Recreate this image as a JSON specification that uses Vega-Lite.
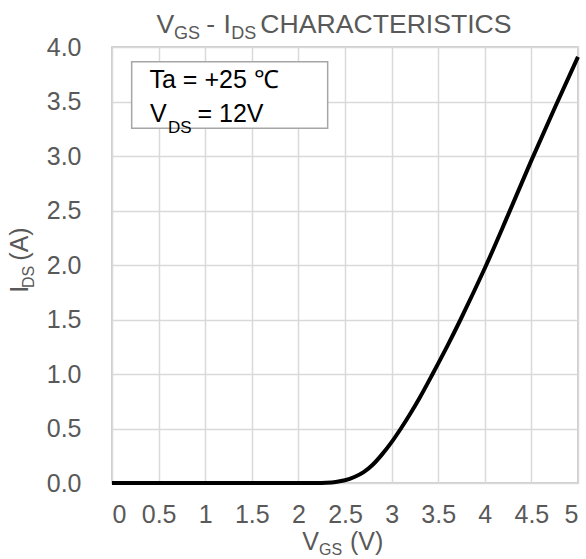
{
  "$schema": "https://vega.github.io/schema/vega-lite/v6.json",
  "width": 466,
  "height": 436,
  "autosize": {"type": "none"},
  "padding": {"left": 112, "top": 47, "right": 8, "bottom": 76},
  "background": "white",
  "config": {
    "font": "Liberation Sans",
    "view": {"stroke": "#bfbfbf", "strokeWidth": 1.5},
    "axis": {
      "gridColor": "#d9d9d9",
      "gridWidth": 1.5,
      "gridOpacity": 1,
      "domain": false,
      "ticks": false,
      "tickSize": 0,
      "labelFont": "Liberation Sans",
      "labelFontSize": 25,
      "labelColor": "#595959",
      "title": null
    }
  },
  "datasets": {
    "curve": [
      {"vgs": 0, "ids": 0}, {"vgs": 0.5, "ids": 0}, {"vgs": 1, "ids": 0}, {"vgs": 1.5, "ids": 0},
      {"vgs": 2, "ids": 0}, {"vgs": 2.2, "ids": 0}, {"vgs": 2.3, "ids": 0.003}, {"vgs": 2.4, "ids": 0.01},
      {"vgs": 2.5, "ids": 0.025}, {"vgs": 2.6, "ids": 0.055}, {"vgs": 2.7, "ids": 0.1}, {"vgs": 2.8, "ids": 0.17},
      {"vgs": 2.9, "ids": 0.265}, {"vgs": 3.0, "ids": 0.375}, {"vgs": 3.1, "ids": 0.5}, {"vgs": 3.2, "ids": 0.635},
      {"vgs": 3.3, "ids": 0.78}, {"vgs": 3.44, "ids": 1.0}, {"vgs": 3.6, "ids": 1.26}, {"vgs": 3.74, "ids": 1.5},
      {"vgs": 3.88, "ids": 1.75}, {"vgs": 4.0, "ids": 1.97}, {"vgs": 4.25, "ids": 2.46}, {"vgs": 4.5, "ids": 2.96},
      {"vgs": 4.75, "ids": 3.44}, {"vgs": 5.0, "ids": 3.91}
    ],
    "titleMain": [
      {"label": "V", "vgs": 0.4775, "ids": 4.1257},
      {"label": "-", "vgs": 1.0107, "ids": 4.1257},
      {"label": "I", "vgs": 1.197, "ids": 4.1257},
      {"label": "CHARACTERISTICS", "vgs": 1.592, "ids": 4.1257}
    ],
    "titleSub": [
      {"label": "GS", "vgs": 0.665, "ids": 4.0706},
      {"label": "DS", "vgs": 1.28, "ids": 4.0706}
    ],
    "xTitleMain": [
      {"label": "V", "vgs": 2.041, "ids": -0.6147},
      {"label": "(V)", "vgs": 2.554, "ids": -0.6147}
    ],
    "xTitleSub": [
      {"label": "GS", "vgs": 2.221, "ids": -0.665}
    ],
    "yTitleMain": [
      {"label": "I", "vgs": -0.898, "ids": 1.745},
      {"label": "(A)", "vgs": -0.898, "ids": 2.04}
    ],
    "yTitleSub": [
      {"label": "DS", "vgs": -0.837, "ids": 1.788}
    ],
    "legendMain": [
      {"label": "Ta = +25 ℃", "vgs": 0.4023, "ids": 3.621},
      {"label": "V", "vgs": 0.4077, "ids": 3.3147},
      {"label": "= 12V", "vgs": 0.917, "ids": 3.3147}
    ],
    "legendSub": [
      {"label": "DS", "vgs": 0.601, "ids": 3.211}
    ]
  },
  "layer": [
    {
      "data": {"name": "curve"},
      "mark": {"type": "line", "color": "black", "strokeWidth": 4, "interpolate": "monotone"},
      "encoding": {
        "x": {
          "field": "vgs", "type": "quantitative",
          "scale": {"domain": [0, 5], "nice": false, "zero": false},
          "axis": {"values": [0, 0.5, 1, 1.5, 2, 2.5, 3, 3.5, 4, 4.5, 5], "labelExpr": "toString(datum.value)", "labelPadding": 19, "title": null}
        },
        "y": {
          "field": "ids", "type": "quantitative",
          "scale": {"domain": [0, 4], "nice": false, "zero": false},
          "axis": {"values": [0, 0.5, 1, 1.5, 2, 2.5, 3, 3.5, 4], "format": ".1f", "labelPadding": 31, "title": null}
        }
      }
    },
    {
      "data": {"values": [{}]},
      "mark": {"type": "rect", "fill": "white", "stroke": "#a6a6a6", "strokeWidth": 1.5},
      "encoding": {
        "x": {"datum": 0.211, "type": "quantitative"},
        "x2": {"datum": 2.314},
        "y": {"datum": 3.865, "type": "quantitative"},
        "y2": {"datum": 3.254}
      }
    },
    {
      "data": {"name": "titleMain"},
      "mark": {"type": "text", "align": "left", "baseline": "alphabetic", "fontSize": 26.6, "color": "#595959"},
      "encoding": {"x": {"field": "vgs", "type": "quantitative"}, "y": {"field": "ids", "type": "quantitative"}, "text": {"field": "label"}}
    },
    {
      "data": {"name": "titleSub"},
      "mark": {"type": "text", "align": "left", "baseline": "alphabetic", "fontSize": 18, "color": "#595959"},
      "encoding": {"x": {"field": "vgs", "type": "quantitative"}, "y": {"field": "ids", "type": "quantitative"}, "text": {"field": "label"}}
    },
    {
      "data": {"name": "xTitleMain"},
      "mark": {"type": "text", "align": "left", "baseline": "alphabetic", "fontSize": 25, "color": "#595959"},
      "encoding": {"x": {"field": "vgs", "type": "quantitative"}, "y": {"field": "ids", "type": "quantitative"}, "text": {"field": "label"}}
    },
    {
      "data": {"name": "xTitleSub"},
      "mark": {"type": "text", "align": "left", "baseline": "alphabetic", "fontSize": 16, "color": "#595959"},
      "encoding": {"x": {"field": "vgs", "type": "quantitative"}, "y": {"field": "ids", "type": "quantitative"}, "text": {"field": "label"}}
    },
    {
      "data": {"name": "yTitleMain"},
      "mark": {"type": "text", "align": "left", "baseline": "alphabetic", "fontSize": 25, "angle": 270, "color": "#595959"},
      "encoding": {"x": {"field": "vgs", "type": "quantitative"}, "y": {"field": "ids", "type": "quantitative"}, "text": {"field": "label"}}
    },
    {
      "data": {"name": "yTitleSub"},
      "mark": {"type": "text", "align": "left", "baseline": "alphabetic", "fontSize": 16, "angle": 270, "color": "#595959"},
      "encoding": {"x": {"field": "vgs", "type": "quantitative"}, "y": {"field": "ids", "type": "quantitative"}, "text": {"field": "label"}}
    },
    {
      "data": {"name": "legendMain"},
      "mark": {"type": "text", "align": "left", "baseline": "alphabetic", "fontSize": 25, "color": "black"},
      "encoding": {"x": {"field": "vgs", "type": "quantitative"}, "y": {"field": "ids", "type": "quantitative"}, "text": {"field": "label"}}
    },
    {
      "data": {"name": "legendSub"},
      "mark": {"type": "text", "align": "left", "baseline": "alphabetic", "fontSize": 17, "color": "black"},
      "encoding": {"x": {"field": "vgs", "type": "quantitative"}, "y": {"field": "ids", "type": "quantitative"}, "text": {"field": "label"}}
    }
  ]
}
